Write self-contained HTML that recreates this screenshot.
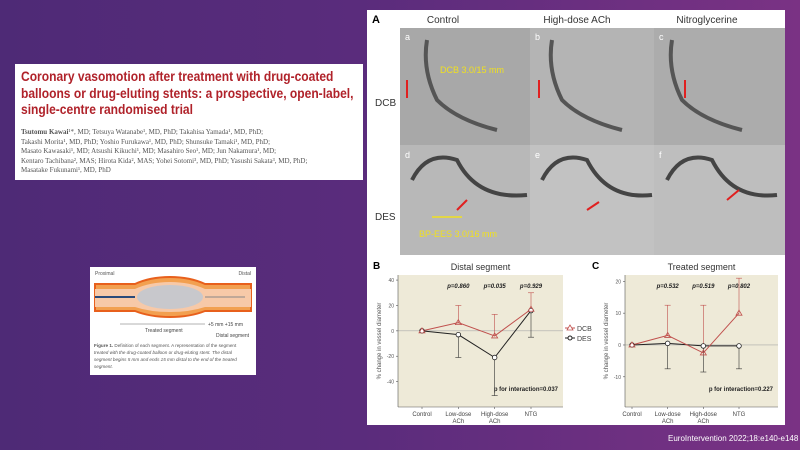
<!DOCTYPE html>
<html><head><meta charset="utf-8"><style>
body{margin:0;width:800px;height:450px;overflow:hidden;font-family:"Liberation Sans",sans-serif;}
#bg{position:absolute;left:0;top:0;width:800px;height:450px;background:linear-gradient(90deg,#4e2a76 0%,#5a2c7c 45%,#7a3284 100%);}
.abs{position:absolute;}
.tl{white-space:nowrap;transform:scaleX(0.86);transform-origin:left;}
</style></head><body>
<div id="bg"></div>

<div class="abs" style="left:15px;top:64px;width:348px;height:116px;background:#fff;">
 <div style="position:absolute;left:6px;top:4px;width:340px;color:#b0222a;font-weight:bold;font-size:14px;line-height:16.5px;">
  <div class="tl">Coronary vasomotion after treatment with drug-coated</div>
  <div class="tl">balloons or drug-eluting stents: a prospective, open-label,</div>
  <div class="tl">single-centre randomised trial</div>
 </div>
 <div style="position:absolute;left:6px;top:64px;width:345px;color:#555;font-family:'Liberation Serif',serif;font-size:7px;line-height:9.6px;white-space:nowrap;"><b>Tsutomu Kawai</b>¹*, MD; Tetsuya Watanabe¹, MD, PhD; Takahisa Yamada¹, MD, PhD;<br>Takashi Morita¹, MD, PhD; Yoshio Furukawa¹, MD, PhD; Shunsuke Tamaki¹, MD, PhD;<br>Masato Kawasaki¹, MD; Atsushi Kikuchi¹, MD; Masahiro Seo¹, MD; Jun Nakamura¹, MD;<br>Kentaro Tachibana², MAS; Hirota Kida², MAS; Yohei Sotomi³, MD, PhD; Yasushi Sakata³, MD, PhD;<br>Masatake Fukunami¹, MD, PhD</div>
</div>

<div class="abs" style="left:90px;top:267px;width:166px;height:108px;background:#fff;">
 <svg width="166" height="108" style="position:absolute;left:0;top:0">
  <text x="5" y="8" font-size="5" fill="#555">Proximal</text><text x="161" y="8" font-size="5" fill="#555" text-anchor="end">Distal</text>
  <path d="M5,17 L45,17 Q60,10 80,10 Q100,10 115,17 L161,17 L161,44 L115,44 Q100,50 80,50 Q60,50 45,44 L5,44Z" fill="#f2a050" stroke="#e8601c" stroke-width="2"/>
  <path d="M5,22 L45,22 Q60,15 80,15 Q100,15 115,22 L161,22 L161,40 L115,40 Q100,45 80,45 Q60,45 45,40 L5,40Z" fill="#f7c9a8"/>
  <ellipse cx="80" cy="30" rx="33" ry="12" fill="#c8c8cc"/>
  <line x1="5" y1="30" x2="45" y2="30" stroke="#2a4a7a" stroke-width="2"/>
  <line x1="115" y1="30" x2="155" y2="30" stroke="#888" stroke-width="1"/>
  <line x1="30" y1="57" x2="115" y2="57" stroke="#666" stroke-width=".5"/>
  <text x="55" y="65" font-size="5" fill="#444">Treated segment</text>
  <text x="118" y="59" font-size="5" fill="#444">+5 mm  +15 mm</text>
  <text x="126" y="70" font-size="5" fill="#444">Distal segment</text>
  <text x="4" y="80" font-size="4.6" fill="#555"><tspan font-weight="bold">Figure 1.</tspan> Definition of each segment. A representation of the segment</text>
  <text x="4" y="87" font-size="4.6" fill="#555" font-style="italic">treated with the drug-coated balloon or drug-eluting stent. The distal</text>
  <text x="4" y="94" font-size="4.6" fill="#555" font-style="italic">segment begins 5 mm and ends 15 mm distal to the end of the treated</text>
  <text x="4" y="101" font-size="4.6" fill="#555" font-style="italic">segment.</text>
 </svg>
</div>

<div class="abs" style="left:367px;top:10px;width:418px;height:415px;background:#fff;">
 <svg width="418" height="250" style="position:absolute;left:0;top:0">
  <text x="5" y="13" font-size="11" font-weight="bold">A</text>
  <text x="76" y="13" font-size="10" fill="#333" text-anchor="middle">Control</text>
  <text x="210" y="13" font-size="10" fill="#333" text-anchor="middle">High-dose ACh</text>
  <text x="340" y="13" font-size="10" fill="#333" text-anchor="middle">Nitroglycerine</text>
  <text x="8" y="96" font-size="10" fill="#333">DCB</text>
  <text x="8" y="210" font-size="10" fill="#333">DES</text>
  <rect x="33" y="18" width="130" height="117" fill="#a8a8a8"/>
  <rect x="163" y="18" width="124" height="117" fill="#b4b4b4"/>
  <rect x="287" y="18" width="131" height="117" fill="#acacac"/>
  <rect x="33" y="135" width="130" height="110" fill="#b8b8b8"/>
  <rect x="163" y="135" width="124" height="110" fill="#c2c2c2"/>
  <rect x="287" y="135" width="131" height="110" fill="#bebebe"/>
  <path d="M60,30 Q55,60 70,90 Q90,110 130,120" stroke="#555" stroke-width="4" fill="none"/>
  <path d="M185,30 Q180,60 195,90 Q215,110 255,120" stroke="#555" stroke-width="4" fill="none"/>
  <path d="M305,30 Q300,60 315,90 Q335,110 375,120" stroke="#555" stroke-width="4" fill="none"/>
  <path d="M45,170 Q60,140 90,150 Q110,190 160,185" stroke="#444" stroke-width="4" fill="none"/>
  <path d="M175,170 Q190,140 220,150 Q240,190 285,185" stroke="#444" stroke-width="4" fill="none"/>
  <path d="M300,170 Q315,140 345,150 Q365,190 410,185" stroke="#444" stroke-width="4" fill="none"/>
  <text x="38" y="30" font-size="9" fill="#fff">a</text><text x="168" y="30" font-size="9" fill="#fff">b</text><text x="292" y="30" font-size="9" fill="#fff">c</text>
  <text x="38" y="148" font-size="9" fill="#fff">d</text><text x="168" y="148" font-size="9" fill="#fff">e</text><text x="292" y="148" font-size="9" fill="#fff">f</text>
  <text x="73" y="63" font-size="9" fill="#f0e020">DCB 3.0/15 mm</text>
  <text x="52" y="227" font-size="9" fill="#f0e020">BP-EES 3.0/16 mm</text>
  <line x1="65" y1="207" x2="95" y2="207" stroke="#f0e020" stroke-width="1.5"/>
  <line x1="40" y1="70" x2="40" y2="88" stroke="#e02020" stroke-width="2"/>
  <line x1="172" y1="70" x2="172" y2="88" stroke="#e02020" stroke-width="2"/>
  <line x1="318" y1="70" x2="318" y2="88" stroke="#e02020" stroke-width="2"/>
  <line x1="90" y1="200" x2="100" y2="190" stroke="#e02020" stroke-width="2"/>
  <line x1="220" y1="200" x2="232" y2="192" stroke="#e02020" stroke-width="2"/>
  <line x1="360" y1="190" x2="372" y2="180" stroke="#e02020" stroke-width="2"/>
 </svg>
 <svg id="charts" width="418" height="165" style="position:absolute;left:0;top:250px"></svg>
</div>
<div class="abs" style="left:668px;top:434px;color:#fff;font-size:8px;white-space:nowrap;">EuroIntervention 2022;18:e140-e148</div>

<script>
const categories=["Control","Low-dose|ACh","High-dose|ACh","NTG"];
const bDCB=[0,6.5,-4,17];
const bDCBup=[0,20,13,30];
const bDES=[0,-3,-21,16];
const bDESlo=[0,-21,-51,-5];
const bTicks=[40,20,0,-20,-40];
const bP=["p=0.860","p=0.035","p=0.929"];
const cDCB=[0,3,-2.5,10];
const cDCBup=[0,12.5,12.5,21];
const cDES=[0,0.5,-0.3,-0.3];
const cDESlo=[0,-7.5,-8.5,-7.5];
const cTicks=[20,10,0,-10];
const cP=["p=0.532","p=0.519","p=0.802"];

const svg=document.getElementById('charts');
const NS="http://www.w3.org/2000/svg";
function el(t,a,txt){const e=document.createElementNS(NS,t);for(const k in a)e.setAttribute(k,a[k]);if(txt!==undefined)e.textContent=txt;svg.appendChild(e);return e;}
function chart(o){
 const {x0,x1,y0,y1,xs,vmin,vmax}=o;
 const ys=v=>y1-(v-vmin)/(vmax-vmin)*(y1-y0);
 const xp=i=>xs[0]+i*(xs[1]-xs[0])/3;
 let r=el('rect',{x:x0,y:y0,width:x1-x0,height:y1-y0,fill:'#eeead8'});
 
 el('text',{x:o.lx,y:y0-6,'font-size':10,'font-weight':'bold'},o.letter);
 el('text',{x:(x0+x1)/2,y:y0-5,'font-size':9,'text-anchor':'middle',fill:'#333'},o.title);
 el('line',{x1:x0,y1:ys(0),x2:x1,y2:ys(0),stroke:'#aaa','stroke-width':.6});
 el('line',{x1:x0,y1:y0,x2:x0,y2:y1,stroke:'#555','stroke-width':.6});
 el('line',{x1:x0,y1:y1,x2:x1,y2:y1,stroke:'#555','stroke-width':.6});
 o.ticks.forEach(t=>{el('line',{x1:x0-2,y1:ys(t),x2:x0,y2:ys(t),stroke:'#555','stroke-width':.6});
  el('text',{x:x0-4,y:ys(t)+2,'font-size':5,'text-anchor':'end',fill:'#555'},t);});
 const ty=(y0+y1)/2;
 el('text',{x:x0-17,y:ty,'font-size':6,'text-anchor':'middle',fill:'#555',transform:`rotate(-90 ${x0-17} ${ty})`},'% change in vessel diameter');
 categories.forEach((c,i)=>{const p=c.split('|');p.forEach((s,j)=>el('text',{x:xp(i),y:y1+9+j*7,'font-size':6,'text-anchor':'middle',fill:'#444'},s));
  el('line',{x1:xp(i),y1:y1,x2:xp(i),y2:y1+2,stroke:'#555','stroke-width':.6});});
 o.p.forEach((s,i)=>el('text',{x:xp(i+1),y:y0+13,'font-size':6,'font-weight':'bold','font-style':'italic','text-anchor':'middle',fill:'#222'},s));
 el('text',{x:x1-5,y:o.piy,'font-size':6,'font-weight':'bold','text-anchor':'end',fill:'#222'},o.pint);
 o.dcb.forEach((v,i)=>{if(i==0)return;const x=xp(i);el('line',{x1:x,y1:ys(v),x2:x,y2:ys(o.up[i]),stroke:'#c0504d','stroke-width':.6});el('line',{x1:x-3,y1:ys(o.up[i]),x2:x+3,y2:ys(o.up[i]),stroke:'#c0504d','stroke-width':.6});});
 o.des.forEach((v,i)=>{if(i==0)return;const x=xp(i);el('line',{x1:x,y1:ys(v),x2:x,y2:ys(o.lo[i]),stroke:'#333','stroke-width':.6});el('line',{x1:x-3,y1:ys(o.lo[i]),x2:x+3,y2:ys(o.lo[i]),stroke:'#333','stroke-width':.6});});
 let l=el('polyline',{points:o.des.map((v,i)=>xp(i)+','+ys(v)).join(' '),fill:'none',stroke:'#222','stroke-width':1});
 
 l=el('polyline',{points:o.dcb.map((v,i)=>xp(i)+','+ys(v)).join(' '),fill:'none',stroke:'#c0504d','stroke-width':1});
 
 o.des.forEach((v,i)=>{const c=el('circle',{cx:xp(i),cy:ys(v),r:2.3,fill:'#fff',stroke:'#222','stroke-width':.8});});
 o.dcb.forEach((v,i)=>{const x=xp(i),y=ys(v);const t=el('polygon',{points:`${x},${y-3} ${x-3},${y+2} ${x+3},${y+2}`,fill:'none',stroke:'#c0504d','stroke-width':.8});});
}
chart({name:'distal',letter:'B',lx:6,title:'Distal segment',x0:31,x1:196,y0:15,y1:147,xs:[55,164],vmin:-60,vmax:44,ticks:bTicks,p:bP,dcb:bDCB,up:bDCBup,des:bDES,lo:bDESlo,pint:'p for interaction=0.037',piy:131});
chart({name:'treated',letter:'C',lx:225,title:'Treated segment',x0:258,x1:411,y0:15,y1:147,xs:[265,372],vmin:-19.5,vmax:22,ticks:cTicks,p:cP,dcb:cDCB,up:cDCBup,des:cDES,lo:cDESlo,pint:'p for interaction=0.227',piy:131});
const lg=el('g',{});
el('line',{x1:198,y1:68,x2:208,y2:68,stroke:'#c0504d'});el('polygon',{points:'203,65 200,70 206,70',fill:'#fff',stroke:'#c0504d','stroke-width':.8});
el('text',{x:210,y:71,'font-size':7,fill:'#444'},'DCB');
el('line',{x1:198,y1:78,x2:208,y2:78,stroke:'#222'});el('circle',{cx:203,cy:78,r:2,fill:'#fff',stroke:'#222'});
el('text',{x:210,y:81,'font-size':7,fill:'#444'},'DES');
</script>
</body></html>
